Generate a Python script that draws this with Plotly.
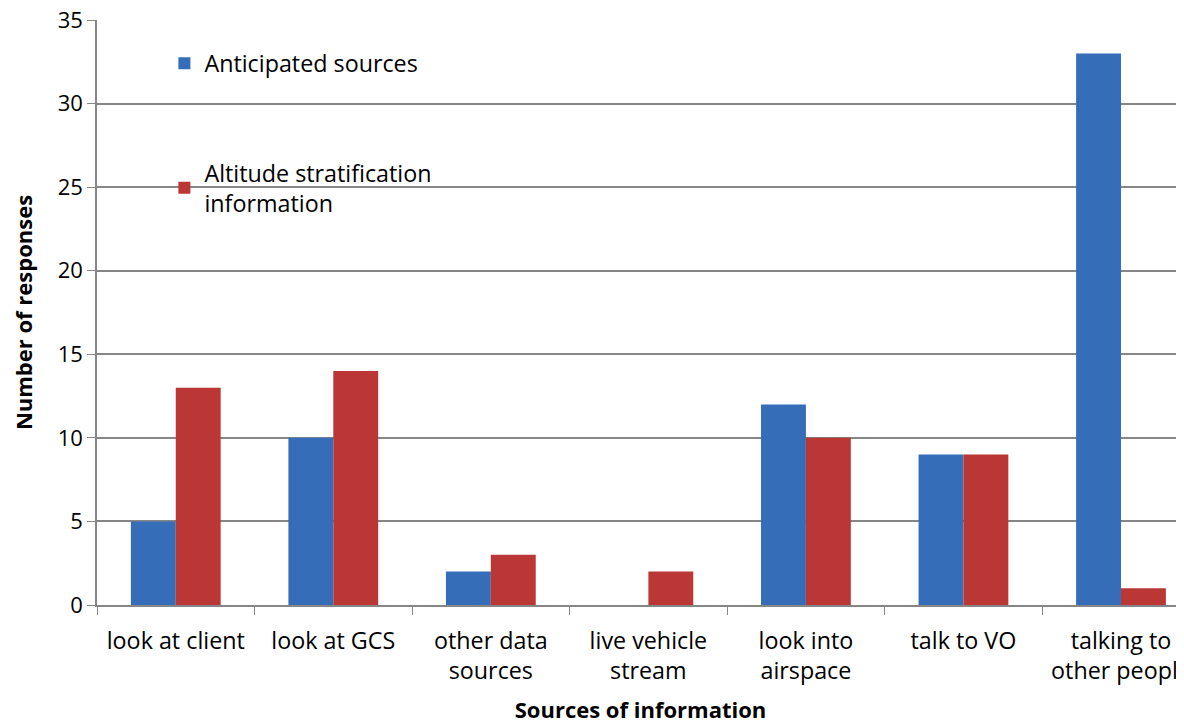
import plotly.graph_objects as go

categories = ["look at client", "look at GCS", "other data<br>sources", "live vehicle<br>stream",
              "look into<br>airspace", "talk to VO", "talking to<br>other people"]
anticipated = [5, 10, 2, 0, 12, 9, 33]
altitude = [13, 14, 3, 2, 10, 9, 1]
y_ticks = [0, 5, 10, 15, 20, 25, 30, 35]

FONT = "Open Sans"

fig = go.Figure()
fig.add_trace(go.Bar(x=categories, y=anticipated, name="Anticipated sources",
                     marker=dict(color="#356db8", line=dict(width=0)), legendgroup="a"))
fig.add_trace(go.Bar(x=categories, y=altitude, name="Altitude stratification<br>information",
                     marker=dict(color="#bb3735", line=dict(width=0)), legendgroup="b"))

# page body has an 8px margin: figure is offset by 8px right/down
fig.update_layout(
    width=1176, height=716,
    margin=dict(l=89, r=0, t=12, b=119),
    paper_bgcolor="white", plot_bgcolor="white",
    barmode="group", bargap=0.43, bargroupgap=0,
    font=dict(family=FONT, size=22, color="black"),
    showlegend=True,
    legend=dict(x=0.062, y=0.963, xanchor="left", yanchor="top",
                font=dict(size=23.3), tracegroupgap=76,
                bgcolor="rgba(0,0,0,0)", itemwidth=30),
    xaxis=dict(type="category", range=[-0.5, 6.4], tickson="boundaries",
               ticks="outside", ticklen=8, tickcolor="#868686",
               showline=True, linecolor="#868686", linewidth=1.5,
               showgrid=False, automargin=False, ticklabelstandoff=14,
               ticklabeloverflow="allow",
               title=dict(text="<b>Sources of information</b>", font=dict(size=22), standoff=21),
               tickfont=dict(size=23.3)),
    yaxis=dict(range=[0, 35], tickvals=y_ticks, ticks="outside", ticklen=8, tickcolor="#868686",
               showline=True, linecolor="#868686", linewidth=1.5,
               showgrid=True, gridcolor="#868686", gridwidth=1.5, zeroline=False,
               automargin=False, ticklabeloverflow="allow",
               title=dict(text="<b>Number of responses</b>", font=dict(size=22), standoff=25),
               tickfont=dict(size=22)),
)

fig.write_html("out.html")
